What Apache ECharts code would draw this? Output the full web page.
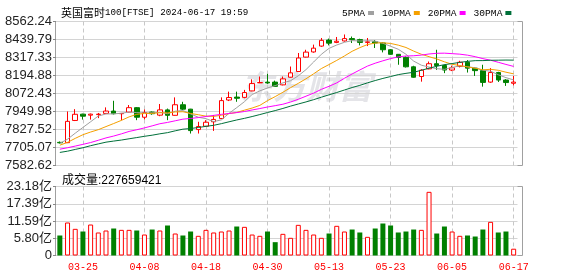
<!DOCTYPE html>
<html><head><meta charset="utf-8">
<script src="https://cdn.jsdelivr.net/npm/echarts@6.0.0/dist/echarts.min.js"></script>
<style>html,body{margin:0;padding:0;background:#fff}#c{width:578px;height:276px}</style>
</head><body><div id="c"></div>
<script>
const titleName = '英国富时';
const titleCode = '100[FTSE] 2024-06-17 19:59';
const volumeLabel = '成交量:227659421';
const dates = ['03-20','03-21','03-22','03-25','03-26','03-27','03-28','04-02','04-03','04-04',
 '04-05','04-08','04-09','04-10','04-11','04-12','04-15','04-16','04-17','04-18',
 '04-19','04-22','04-23','04-24','04-25','04-26','04-29','04-30','05-01','05-02',
 '05-03','05-07','05-08','05-09','05-10','05-13','05-14','05-15','05-16','05-17',
 '05-20','05-21','05-22','05-23','05-24','05-28','05-29','05-30','05-31','06-03',
 '06-04','06-05','06-06','06-07','06-10','06-11','06-12','06-13','06-14','06-17'];
const opens = [7740,7738,7889,7932,7925,7929,7937,7953,7935,7946, 7976,7911,7946,7925,7961,7924,7996,7966,7827,7850,
 7880,7902,8028,8048,8046,8090,8145,8150,8150,8131, 8183,8222,8320,8355,8395,8436,8420,8430,8446,8439,
 8420,8424,8416,8370,8339,8318,8254,8188,8240,8275, 8263,8232,8256,8285,8245,8228,8150,8215,8164,8142];
const closes = [7737,7883,7931,7918,7932,7932,7953,7935,7937,7976, 7911,7943,7935,7961,7924,7996,7966,7820,7848,7877,
 7896,8024,8045,8040,8079,8140,8147,8144,8121,8172, 8213,8314,8354,8381,8434,8415,8428,8446,8439,8420,
 8424,8416,8370,8339,8318,8254,8183,8231,8275,8263, 8232,8247,8285,8245,8228,8148,8215,8164,8147,8150];
const lows = [7732,7735,7885,7895,7895,7905,7935,7930,7890,7944, 7891,7896,7928,7918,7891,7922,7960,7800,7800,7845,
 7818,7900,8021,8016,8040,8088,8143,8138,8118,8128, 8180,8220,8318,8350,8390,8400,8415,8425,8416,8400,
 8395,8382,8352,8336,8268,8249,8180,8153,8237,8233, 8211,8225,8250,8215,8192,8119,8145,8151,8124,8128];
const highs = [7746,7950,7966,7935,7936,7940,7978,8023,7940,7994, 7980,7964,7950,8001,7970,8046,8016,7968,7880,7891,
 7925,8046,8085,8085,8097,8169,8188,8206,8160,8188, 8256,8348,8370,8405,8450,8446,8457,8474,8460,8445,
 8450,8436,8420,8375,8341,8325,8261,8238,8290,8370, 8270,8262,8295,8300,8250,8268,8245,8220,8170,8192];
// volume in 亿 (1e8)
const volumes = [6.72,11.09,8.96,8.06,10.41,7.73,8.40,9.07,8.62,8.62, 8.40,7.05,8.73,8.40,10.08,7.39,6.72,8.06,6.61,8.62,
 7.73,8.06,8.40,9.74,9.63,7.05,6.61,8.06,4.48,7.28, 5.94,10.30,8.62,7.05,5.94,7.39,9.97,8.06,8.73,7.73,
 6.27,9.07,10.75,10.08,7.73,8.06,8.73,8.62,21.39,7.39, 9.74,8.06,6.61,6.72,6.38,8.73,11.31,7.73,8.06,2.28];
const ma5 = [7733.6,7761.6,7802.4,7841.4,7880.2,7919.2,7933.2,7934.0,7937.8,7946.6, 7942.4,7940.4,7940.4,7945.2,7934.8,7951.8,7956.4,7933.4,7910.8,7901.4,
 7881.4,7893.0,7938.0,7976.4,8016.8,8065.6,8090.2,8110.0,8126.2,8144.8, 8159.4,8192.8,8234.8,8286.8,8339.2,8379.6,8402.4,8420.8,8432.4,8429.6,
 8431.4,8429.0,8413.8,8393.8,8373.4,8339.4,8292.8,8265.0,8252.2,8241.2, 8236.8,8249.6,8260.4,8254.4,8247.4,8230.6,8224.2,8200.0,8180.4,8164.8];
const ma10 = [7720.9,7740.0,7767.1,7792.0,7810.4,7826.4,7847.4,7868.2,7889.6,7913.4, 7930.8,7936.8,7937.2,7941.5,7940.7,7947.1,7948.4,7936.9,7928.0,7918.1,
 7916.6,7924.7,7935.7,7943.6,7959.1,7973.5,7991.6,8024.0,8051.3,8080.8, 8112.5,8141.5,8172.4,8206.5,8242.0,8269.5,8297.6,8327.8,8359.6,8384.4,
 8405.5,8415.7,8417.3,8413.1,8401.5,8385.4,8360.9,8339.4,8323.0,8307.3, 8288.1,8271.2,8262.7,8253.3,8244.3,8233.7,8236.9,8230.2,8217.4,8206.1];
const ma20 = [7693.5,7703.4,7714.7,7726.4,7738.8,7754.2,7770.3,7782.9,7797.8,7814.3, 7825.9,7838.4,7852.2,7866.8,7875.6,7886.8,7897.9,7902.6,7908.8,7915.8,
 7923.7,7930.8,7936.5,7942.6,7949.9,7960.3,7970.0,7980.5,7989.7,7999.5, 8014.6,8033.1,8054.1,8075.1,8100.6,8121.5,8144.6,8175.9,8205.5,8232.6,
 8259.0,8278.6,8294.9,8309.8,8321.8,8327.5,8329.3,8333.6,8341.3,8345.9, 8346.8,8343.5,8340.0,8333.2,8322.9,8309.6,8298.9,8284.8,8270.2,8256.7];
const ma30 = [7671.5,7680.0,7691.9,7703.4,7717.4,7729.5,7741.4,7748.8,7755.7,7764.3, 7772.6,7781.2,7788.8,7798.1,7806.1,7818.5,7829.7,7834.2,7841.2,7848.9,
 7856.1,7867.2,7880.0,7892.4,7903.4,7915.7,7929.1,7943.0,7956.3,7970.8, 7986.6,8001.0,8015.1,8030.5,8047.3,8063.4,8079.2,8096.2,8113.0,8127.8,
 8144.9,8160.6,8175.1,8187.7,8200.9,8209.5,8216.7,8230.4,8244.6,8257.5, 8268.7,8276.1,8284.1,8291.0,8295.9,8296.2,8298.5,8299.1,8300.0,8299.3];
const maNames = ['5PMA','10PMA','20PMA','30PMA'];
const priceMin = 7582.62, priceMax = 8562.24, priceStep = 122.4525;
const volMax = 23.184, volStep = 5.796; // 亿
const firstLabelIndex = 3, labelEvery = 8;

const RED = '#ff0000', GREEN = '#008000';
const maColors = ['#a0a0a0', '#f5a000', '#ff00ff', '#00703a'];
const showIdx = (i) => (i - firstLabelIndex) % labelEvery === 0;
const mono = '"Liberation Mono", "DejaVu Sans Mono", monospace';
const sans = '"Liberation Sans", Arial, "Noto Sans CJK SC", sans-serif';

const chart = echarts.init(document.getElementById('c'), null, {renderer: 'canvas'});
const dashed = {show: true, interval: (i) => showIdx(i), alignWithLabel: true,
  lineStyle: {color: '#c8c8c8', type: [4, 3], width: 1}};

chart.setOption({
  animation: false,
  backgroundColor: '#fff',
  title: [
    {text: '{a|' + titleName + '}{b|' + titleCode + '}', left: 56, top: 2,
     textStyle: {rich: {
       a: {fontFamily: '"Noto Sans CJK SC"', fontSize: 11, color: '#000', fontWeight: 'normal'},
       b: {fontFamily: mono, fontSize: 9.2, color: '#000', fontWeight: 'normal'}}}},
    {text: volumeLabel, left: 57, top: 170,
     textStyle: {fontFamily: sans, fontSize: 12, color: '#000', fontWeight: 'normal'}}
  ],
  legend: {
    data: maNames, left: 337, top: 3, align: 'right', icon: 'rect',
    itemWidth: 6, itemHeight: 4, itemGap: 8,
    textStyle: {fontFamily: mono, fontSize: 9.6, color: '#000', padding: [0, -2, 0, 0]},
    selectedMode: false
  },
  graphic: [
    {type: 'text', left: 240, top: 70, z: -10, silent: true,
     style: {text: '东方财富', fontFamily: '"Noto Sans CJK SC"', fontSize: 33, fontWeight: 'bold',
              fontStyle: 'italic', fill: '#e4e4e8'}}
  ],
  grid: [
    {left: 55.5, right: 55.5, top: 21.5, height: 144, show: true, borderColor: '#a0a0a0', borderWidth: 1, backgroundColor: 'transparent'},
    {left: 56, right: 60.5, top: 21.5, height: 144},
    {left: 55.5, right: 55.5, top: 186.5, height: 69, show: true, borderColor: '#a0a0a0', borderWidth: 1, backgroundColor: 'transparent'},
    {left: 56, right: 60.5, top: 186.5, height: 69}
  ],
  xAxis: [
    {gridIndex: 0, type: 'category', data: [], show: false},
    {gridIndex: 1, type: 'category', data: dates, boundaryGap: true,
     axisLine: {show: false}, axisTick: {show: false}, axisLabel: {show: false}, splitLine: dashed},
    {gridIndex: 2, type: 'category', data: [], show: false},
    {gridIndex: 3, type: 'category', data: dates, boundaryGap: true,
     axisLine: {show: false}, axisTick: {show: false},
     axisLabel: {show: true, interval: (i) => showIdx(i), color: RED, fontFamily: mono, fontSize: 10, margin: 7},
     splitLine: dashed}
  ],
  yAxis: [
    {gridIndex: 0, type: 'value', show: false},
    {gridIndex: 1, type: 'value', min: priceMin, max: priceMax, interval: priceStep,
     axisLine: {show: false}, axisTick: {show: true, length: 3, lineStyle: {color: '#888'}},
     axisLabel: {formatter: (v) => v.toFixed(2), fontFamily: sans, fontSize: 13, color: '#222', margin: 4},
     splitLine: {show: true, lineStyle: {color: '#d4d4d4', width: 1}}},
    {gridIndex: 2, type: 'value', show: false},
    {gridIndex: 3, type: 'value', min: 0, max: volMax * 1e8, interval: volStep * 1e8,
     axisLine: {show: false}, axisTick: {show: true, length: 3, lineStyle: {color: '#888'}},
     axisLabel: {formatter: (v) => v === 0 ? '0' : (v / 1e8).toFixed(2) + '亿', fontFamily: sans, fontSize: 13, color: '#222', margin: 4},
     splitLine: {show: true, lineStyle: {color: '#d4d4d4', width: 1}}}
  ],
  series: [
    {type: 'candlestick', xAxisIndex: 1, yAxisIndex: 1, barWidth: 5,
     data: dates.map((d, i) => [opens[i], closes[i], lows[i], highs[i]]),
     itemStyle: {color: '#ffffff', color0: GREEN, borderColor: RED, borderColor0: GREEN, borderWidth: 1}},
    ...[ma5, ma10, ma20, ma30].map((arr, k) => ({
      name: maNames[k], type: 'line', xAxisIndex: 1, yAxisIndex: 1, data: arr,
      symbol: 'none', smooth: false, lineStyle: {width: 1, color: maColors[k]},
      itemStyle: {color: maColors[k]}, z: 3
    })),
    {type: 'bar', xAxisIndex: 3, yAxisIndex: 3, barWidth: 5,
     data: volumes.map((v, i) => {
       const up = closes[i] >= opens[i];
       return {value: v * 1e8, itemStyle: up ? {color: '#ffffff', borderColor: RED, borderWidth: 1} : {color: GREEN}};
     })}
  ]
});
</script></body></html>
